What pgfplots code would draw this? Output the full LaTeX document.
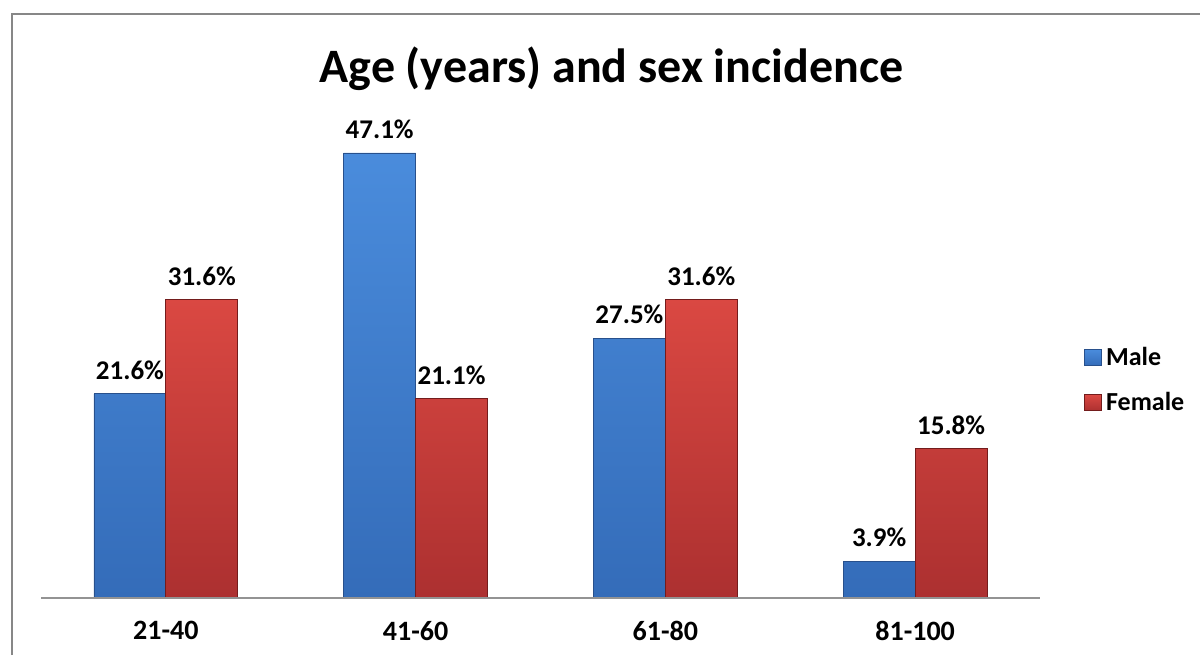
\documentclass[border=0pt]{standalone}
\usepackage{pgfplots}
\pgfplotsset{compat=1.18}
\usepackage{fontspec}
\setmainfont{Carlito}
\definecolor{bluetop}{RGB}{74,140,220}
\definecolor{bluebot}{RGB}{52,108,185}
\definecolor{blueedge}{RGB}{40,80,140}
\definecolor{redtop}{RGB}{218,72,66}
\definecolor{redbot}{RGB}{172,48,48}
\definecolor{rededge}{RGB}{115,28,28}
\definecolor{framegray}{RGB}{135,135,135}
\begin{document}
\begin{tikzpicture}[x=1pt,y=1pt]
\useasboundingbox (0,0) rectangle (600,327.5);
\draw[line width=1pt, color=framegray] (6,0) -- (6,320.5) -- (600,320.5);
\node[font=\bfseries\fontsize{24}{28}\selectfont, anchor=base] at (305.75,286) {Age (years) and sex incidence};
\begin{axis}[
  at={(20.5pt,28.5pt)}, anchor=south west,
  scale only axis, width=499.5pt, height=236.25pt,
  ymin=0, ymax=50, xmin=-0.5, xmax=3.5,
  ybar=0pt, bar width=0.288,
  clip=false,
  axis line style={draw=none},
  ytick=\empty,
  xtick={0,1,2,3},
  xticklabels={21-40,41-60,61-80,81-100},
  major tick length=0pt,
  xticklabel style={font=\bfseries\fontsize{14}{16}\selectfont, yshift=-8pt},
  point meta=explicit symbolic,
  nodes near coords,
  every node near coord/.append style={font=\bfseries\fontsize{13.5}{16}\selectfont, anchor=south, yshift=3.5pt, text=black},
  legend style={draw=none, fill=none, at={(1.038,0.461)}, anchor=west,
    font=\bfseries\fontsize{13}{15}\selectfont, row sep=8pt,
    legend cell align=left},
  legend image code/.code={\draw[#1, line width=0.4pt] (0pt,-4pt) rectangle (8.5pt,4pt);},
]
\addplot[top color=bluetop, bottom color=bluebot, draw=blueedge, line width=0.4pt]
  coordinates {(0,21.6)[21.6\%] (1,47.1)[47.1\%] (2,27.5)[27.5\%] (3,3.9)[3.9\%]};
\addplot[top color=redtop, bottom color=redbot, draw=rededge, line width=0.4pt]
  coordinates {(0,31.6)[31.6\%] (1,21.1)[21.1\%] (2,31.6)[31.6\%] (3,15.8)[15.8\%]};
\legend{Male,Female}
\draw[color=framegray!90, line width=1pt] (rel axis cs:0,0) -- (rel axis cs:1,0);
\end{axis}
\end{tikzpicture}
\end{document}
